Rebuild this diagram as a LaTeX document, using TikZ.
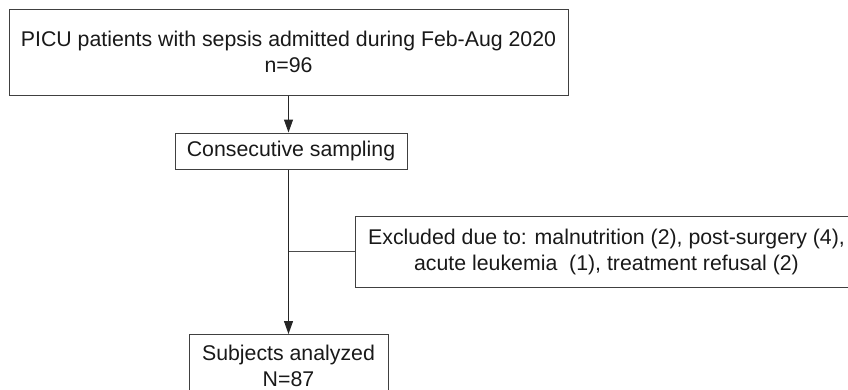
\documentclass[tikz,border=0pt]{standalone}
\usepackage{fontspec}
\setmainfont{Liberation Sans}
\usetikzlibrary{arrows.meta}
\begin{document}
\begin{tikzpicture}[x=1pt,y=-1pt,
  box/.style={draw=black!75, line width=1pt, inner sep=0pt, align=center,
    font=\fontsize{21.3}{26}\selectfont, text=black!90},
  arr/.style={draw=black!85, line width=1pt, -{Triangle[length=13pt,width=9pt]}},
  ln/.style={draw=black!70, line width=1pt}]
\useasboundingbox (0,0) rectangle (848,389);
\clip (0,0) rectangle (848,389);
\node[box, minimum width=559pt, minimum height=86pt] (top) at (288.5,52) {PICU patients with sepsis admitted during Feb-Aug 2020\\n=96};
\node[box, minimum width=232pt, minimum height=36pt] (cons) at (291,151) {Consecutive sampling};
\node[box, minimum width=503pt, minimum height=71pt] (excl) at (606.5,251.5) {Excluded due to: malnutrition (2), post-surgery (4),\\acute leukemia~~(1), treatment refusal (2)};
\node[box, minimum width=199pt, minimum height=62pt, anchor=north] (subj) at (288.5,334) {Subjects analyzed\\N=87};
\draw[arr] (top.south) -- (top.south |- cons.north);
\draw[arr] (top.south |- cons.south) -- (top.south |- subj.north);
\draw[ln] (excl.west) -- (excl.west -| top.south);
\end{tikzpicture}
\end{document}
